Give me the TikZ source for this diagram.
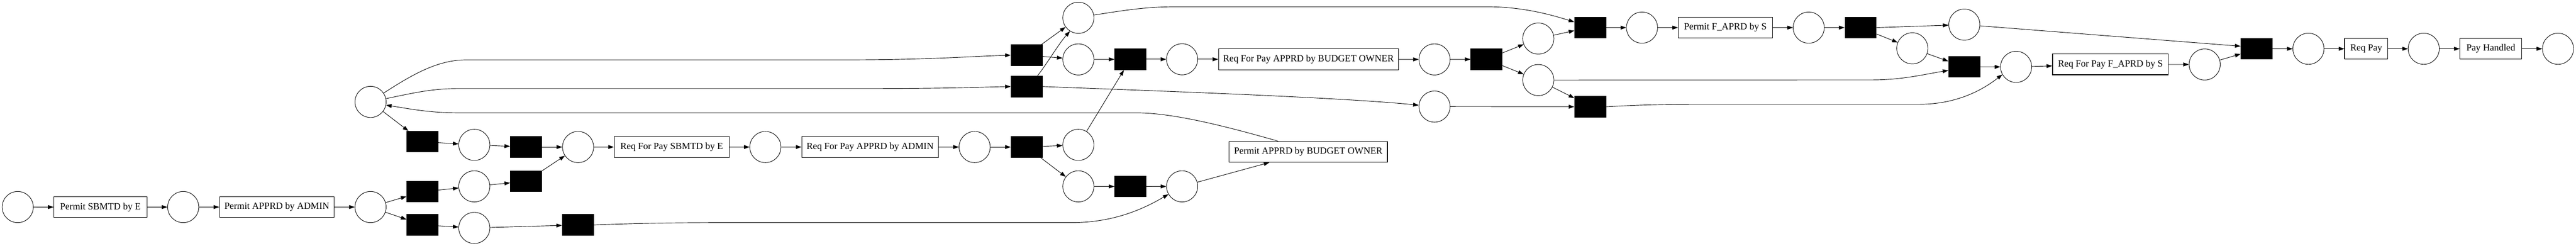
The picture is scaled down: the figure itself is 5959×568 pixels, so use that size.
\documentclass[tikz,border=0pt]{standalone}
\usepackage{fontspec}
\setmainfont{Liberation Serif}
\usetikzlibrary{arrows.meta}
\begin{document}
\begin{tikzpicture}[x=1pt,y=-1pt,
  place/.style={circle,draw,line width=1.1pt,minimum size=72pt,inner sep=0pt},
  trans/.style={rectangle,fill=black,minimum width=73.5pt,minimum height=49.3pt,inner sep=0pt},
  lbox/.style={rectangle,draw,line width=1.4pt,minimum height=48pt,inner sep=4pt,font=\fontsize{22}{26}\selectfont},
  arc/.style={line width=1.1pt,-{Triangle[length=13pt,width=9pt]}}]
\fill[white] (0,0) rectangle (5959,568);
\useasboundingbox (0,0) rectangle (5959,568);
% places
\node[place] (p0) at (41,478.5) {};
\node[place] (p1) at (423.8,478.5) {};
\node[place] (p2) at (857.2,478.5) {};
\node[place] (p3) at (857.2,235.5) {};
\node[place] (p4) at (1097.2,334.7) {};
\node[place] (p5) at (1097.2,430.7) {};
\node[place] (p6) at (1097.2,526.7) {};
\node[place] (p7) at (1337.2,339.8) {};
\node[place] (p8) at (1770.5,339.8) {};
\node[place] (p9) at (2254.6,339.8) {};
\node[place] (p10) at (2494.5,41.1) {};
\node[place] (p11) at (2494.5,137.3) {};
\node[place] (p12) at (2734.5,137) {};
\node[place] (p13) at (2494.5,334.7) {};
\node[place] (p14) at (2494.5,430.7) {};
\node[place] (p15) at (2734.5,430.7) {};
\node[place] (p16) at (3318.4,246.3) {};
\node[place] (p17) at (3318.4,137.3) {};
\node[place] (p18) at (3558.5,89.1) {};
\node[place] (p19) at (3558.5,185) {};
\node[place] (p20) at (3798.4,63.8) {};
\node[place] (p21) at (4184,63.8) {};
\node[place] (p22) at (4544,56.9) {};
\node[place] (p23) at (4423.7,111.7) {};
\node[place] (p24) at (4663.8,154.5) {};
\node[place] (p25) at (5100,149) {};
\node[place] (p26) at (5340,112.7) {};
\node[place] (p27) at (5606.7,112.7) {};
\node[place] (p28) at (5917.3,112.7) {};
% silent transitions
\node[trans] (t1) at (977.3,327.5) {};
\node[trans] (t2) at (977.3,443) {};
\node[trans] (t3) at (977.3,519.8) {};
\node[trans] (t4) at (1217,339.8) {};
\node[trans] (t5) at (1217,419) {};
\node[trans] (t6) at (1337,519.8) {};
\node[trans] (t7) at (2375,127.5) {};
\node[trans] (t8) at (2375,200) {};
\node[trans] (t9) at (2375,339.8) {};
\node[trans] (t10) at (2615,137) {};
\node[trans] (t11) at (2615,431) {};
\node[trans] (t12) at (3438.7,137) {};
\node[trans] (t13) at (3678.8,63.8) {};
\node[trans] (t14) at (3678.8,246.7) {};
\node[trans] (t15) at (4304,63.8) {};
\node[trans] (t16) at (4544,154.7) {};
\node[trans] (t17) at (5220,112.8) {};
% labelled transitions
\node[lbox,minimum width=215pt] (a1) at (232.3,478.7) {Permit SBMTD by E};
\node[lbox,minimum width=265pt] (a2) at (640.4,478.5) {Permit APPRD by ADMIN};
\node[lbox,minimum width=266pt] (a3) at (1553.8,339.6) {Req For Pay SBMTD by E};
\node[lbox,minimum width=316pt] (a4) at (2012.8,339.6) {Req For Pay APPRD by ADMIN};
\node[lbox,minimum width=416pt] (a5) at (3026.8,137) {Req For Pay APPRD by BUDGET OWNER};
\node[lbox,minimum width=366pt] (a6) at (3026.4,350.8) {Permit APPRD by BUDGET OWNER};
\node[lbox,minimum width=218pt] (a7) at (3991.2,63.8) {Permit F\_APRD by S};
\node[lbox,minimum width=268pt] (a8) at (4882,148.9) {Req For Pay F\_APRD by S};
\node[lbox,minimum width=99.5pt] (a9) at (5473.6,112.7) {Req Pay};
\node[lbox,minimum width=142.6pt] (a10) at (5761.9,112.7) {Pay Handled};
% straight arcs
\draw[arc] (p0) -- (a1);
\draw[arc] (a1) -- (p1);
\draw[arc] (p1) -- (a2);
\draw[arc] (a2) -- (p2);
\draw[arc] (p2) -- (t2);
\draw[arc] (p2) -- (t3);
\draw[arc] (p3) -- (t1);
\draw[arc] (t1) -- (p4);
\draw[arc] (t2) -- (p5);
\draw[arc] (t3) -- (p6);
\draw[arc] (p4) -- (t4);
\draw[arc] (p5) -- (t5);
\draw[arc] (t4) -- (p7);
\draw[arc] (t5) -- (p7);
\draw[arc] (p6) -- (t6);
\draw[arc] (p7) -- (a3);
\draw[arc] (a3) -- (p8);
\draw[arc] (p8) -- (a4);
\draw[arc] (a4) -- (p9);
\draw[arc] (p9) -- (t9);
\draw[arc] (t7) -- (p10);
\draw[arc] (t7) -- (p11);
\draw[arc] (p11) -- (t10);
\draw[arc] (t9) -- (p13);
\draw[arc] (t9) -- (p14);
\draw[arc] (p13) -- (t10);
\draw[arc] (t10) -- (p12);
\draw[arc] (p12) -- (a5);
\draw[arc] (p14) -- (t11);
\draw[arc] (t11) -- (p15);
\draw[arc] (p15) -- ([xshift=-90pt]a6.south);
\draw[arc] (a5) -- (p17);
\draw[arc] (p17) -- (t12);
\draw[arc] (t12) -- (p18);
\draw[arc] (t12) -- (p19);
\draw[arc] (p18) -- ([yshift=-7pt]t13.west);
\draw[arc] (p19) -- ([yshift=20pt]t14.west);
\draw[arc] (p16) -- (t14);
\draw[arc] (t13) -- (p20);
\draw[arc] (p20) -- (a7);
\draw[arc] (a7) -- (p21);
\draw[arc] (p21) -- (t15);
\draw[arc] (t15.east) -- (p22);
\draw[arc] (t15) -- (p23);
\draw[arc] (p23) -- (t16);
\draw[arc] (t16) -- (p24);
\draw[arc] (p24) -- (a8);
\draw[arc] (a8) -- (p25);
\draw[arc] (p22) -- ([yshift=6pt]t17.west);
\draw[arc] (p25) -- ([yshift=-12pt]t17.west);
\draw[arc] (t17) -- (p26);
\draw[arc] (p26) -- (a9);
\draw[arc] (a9) -- (p27);
\draw[arc] (p27) -- (a10);
\draw[arc] (a10) -- (p28);
% curved arcs
\draw[arc] (p3.34) .. controls (950,175) and (1010,138.4) .. (1078,138.4)
  -- (1950,138.4) .. controls (2150,138.4) and (2250,130) .. (t7.west);
\draw[arc] (p3.12) .. controls (960,214) and (1000,204.7) .. (1060,204.7)
  -- (2000,204.7) .. controls (2200,204.7) and (2280,201) .. (t8.west);
\draw[arc] ([xshift=-70pt]a6.north) .. controls (2850,296) and (2720,261) .. (2630,260.8)
  -- (1060,260.8) .. controls (990,260.8) and (940,250) .. (p3.-12);
\draw[arc] ([xshift=25pt]t8.north) .. controls (2420,150) and (2450,100) .. (p10.-122);
\draw[arc] (t8.east) .. controls (2700,211) and (3100,225) .. (p16.175);
\draw[arc] (t6.east) .. controls (1500,515) and (1600,514.4) .. (1700,514.4)
  -- (2480,514.4) .. controls (2580,514.4) and (2650,480) .. (p15.210);
\draw[arc] (p10.10) .. controls (2600,24) and (2650,15.6) .. (2720,15.6)
  -- (3440,15.6) .. controls (3530,15.6) and (3600,38) .. ([yshift=13pt]t13.west);
\draw[arc] (p19.east) -- (4330,184.7) .. controls (4400,184.7) and (4450,172) .. ([yshift=-8pt]t16.west);
\draw[arc] (t14.east) .. controls (3800,242) and (3850,241) .. (3950,241)
  -- (4440,241) .. controls (4530,241) and (4590,205) .. (p24.209);
\end{tikzpicture}
\end{document}
